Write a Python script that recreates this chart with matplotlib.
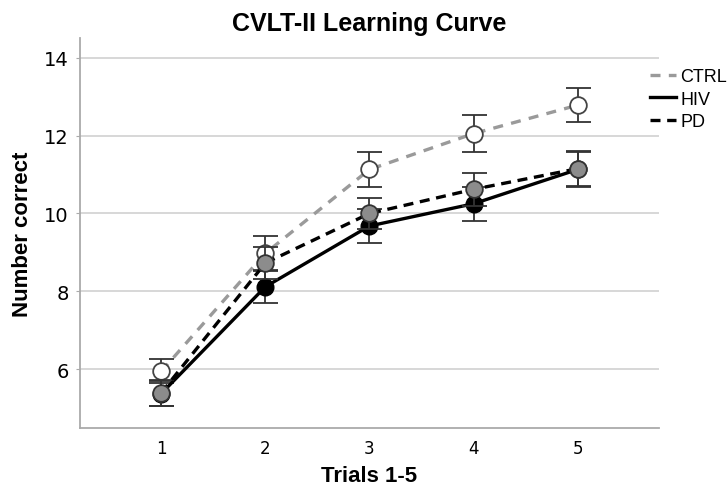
import matplotlib
matplotlib.use("Agg")
import matplotlib.pyplot as plt

# data
trials = [1, 2, 3, 4, 5]
ctrl_mean = [5.95, 8.98, 11.13, 12.05, 12.78]
ctrl_err = [0.31, 0.45, 0.44, 0.47, 0.44]
hiv_mean = [5.38, 8.12, 9.68, 10.25, 11.13]
hiv_err = [0.33, 0.42, 0.43, 0.44, 0.45]
pd_mean = [5.40, 8.73, 10.00, 10.62, 11.15]
pd_err = [0.33, 0.40, 0.41, 0.43, 0.45]
yticks = [6, 8, 10, 12, 14]

plt.rcParams['font.family'] = ['Liberation Sans', 'DejaVu Sans']

fig = plt.figure(figsize=(7.28, 4.89), dpi=100)
ax = fig.add_axes([0.110, 0.123, 0.795, 0.797])

ebar = dict(ecolor='#333333', elinewidth=1.3, capsize=9, capthick=1.3)

ax.errorbar(trials, ctrl_mean, yerr=ctrl_err, color='#9a9a9a', ls=(0, (3, 2.5)), lw=2.4,
            marker='o', ms=12, mfc='white', mec='#444444', mew=1.3, zorder=3, **ebar)
ax.errorbar(trials, hiv_mean, yerr=hiv_err, color='black', ls='-', lw=2.4,
            marker='o', ms=12, mfc='black', mec='black', zorder=4, **ebar)
ax.errorbar(trials, pd_mean, yerr=pd_err, color='black', ls=(0, (3, 2)), lw=2.4,
            marker='o', ms=12, mfc='#8c8c8c', mec='#333333', mew=1.3, zorder=5, **ebar)

ax.set_xlim(0.22, 5.78)
ax.set_ylim(4.5, 14.5)
ax.set_xticks(trials)
ax.set_yticks(yticks)
ax.tick_params(axis='x', length=0, labelsize=12, pad=8)
ax.tick_params(axis='y', length=3, color='#aaaaaa', labelsize=14, pad=5)
for lab in ax.get_xticklabels() + ax.get_yticklabels():
    lab.set_family('DejaVu Sans')

ax.grid(axis='y', color='#d4d4d4', lw=1.3)
ax.set_axisbelow(True)
for s in ['top', 'right']:
    ax.spines[s].set_visible(False)
for s in ['left', 'bottom']:
    ax.spines[s].set_color('#aaaaaa')
    ax.spines[s].set_linewidth(1.3)

ax.set_title('CVLT-II Learning Curve', fontsize=18, fontweight='bold', pad=6)
ax.set_xlabel('Trials 1-5', fontsize=16, fontweight='bold', labelpad=6)
ax.set_ylabel('Number correct', fontsize=16, fontweight='bold', labelpad=8)

h1, = ax.plot([], [], color='#9a9a9a', ls=(0, (3, 2.5)), lw=2.4)
h2, = ax.plot([], [], color='black', ls='-', lw=2.4)
h3, = ax.plot([], [], color='black', ls=(0, (3, 2)), lw=2.4)
fig.legend([h1, h2, h3], ['CTRL', 'HIV', 'PD'], loc='upper left',
           bbox_to_anchor=(0.881, 0.877), frameon=False, fontsize=13,
           handlelength=1.4, handletextpad=0.25, labelspacing=0.3, borderpad=0)

fig.savefig('out.png', dpi=100)
